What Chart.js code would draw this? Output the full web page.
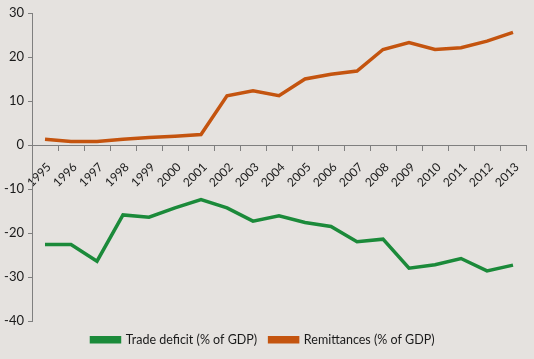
<!DOCTYPE html>
<html>
<head>
<meta charset="utf-8">
<script src="https://cdn.jsdelivr.net/npm/chart.js@4/dist/chart.umd.min.js"></script>
<style>
  html, body { margin: 0; padding: 0; background: #e5e2df; }
  #wrap { width: 534px; height: 359px; }
</style>
</head>
<body>
<div id="wrap"><canvas id="c" width="534" height="359"></canvas></div>
<script>
const years = ['1995','1996','1997','1998','1999','2000','2001','2002','2003','2004','2005','2006','2007','2008','2009','2010','2011','2012','2013'];
const tradeDeficit = [-22.6, -22.6, -26.4, -15.9, -16.4, -14.3, -12.4, -14.3, -17.3, -16.1, -17.6, -18.5, -22.0, -21.4, -28.0, -27.2, -25.8, -28.6, -27.3];
const remittances = [1.3, 0.8, 0.8, 1.3, 1.7, 2.0, 2.4, 11.2, 12.3, 11.2, 15.0, 16.1, 16.8, 21.7, 23.3, 21.7, 22.1, 23.6, 25.6];
const yMin = -40, yMax = 30, yStep = 10;

const green = '#1b8a3a';
const orange = '#c4540f';
const axisColor = '#7f7f7f';
const fontFamily = 'Lato, "Open Sans", sans-serif';

new Chart(document.getElementById('c'), {
  type: 'line',
  data: {
    labels: years,
    datasets: [
      { label: 'Trade deficit (% of GDP)', data: tradeDeficit, borderColor: green, backgroundColor: green, borderWidth: 3.5, pointRadius: 0, tension: 0 },
      { label: 'Remittances (% of GDP)', data: remittances, borderColor: orange, backgroundColor: orange, borderWidth: 3.5, pointRadius: 0, tension: 0 }
    ]
  },
  options: {
    responsive: false,
    animation: false,
    layout: { padding: { top: 13, right: 8, bottom: 3, left: 0 } },
    plugins: {
      legend: {
        position: 'bottom',
        labels: {
          boxWidth: 28, boxHeight: 4, padding: 12.5,
          color: '#1a1a1a',
          font: { family: fontFamily, size: 12.5 }
        }
      },
      tooltip: { enabled: false }
    },
    scales: {
      x: {
        position: { y: 0 },
        offset: true,
        afterFit: (s) => { s.height = 0; },
        grid: { display: true, drawOnChartArea: false, drawTicks: true, tickLength: 5, color: axisColor, offset: true },
        border: { display: true, color: axisColor, width: 1 },
        ticks: { minRotation: 45, maxRotation: 45, labelOffset: 4, color: '#1a1a1a', padding: 10, font: { family: fontFamily, size: 12 } }
      },
      y: {
        min: yMin, max: yMax,
        afterFit: (s) => { s.width = 32; },
        grid: { display: true, drawOnChartArea: false, drawTicks: true, tickLength: 4, color: axisColor },
        border: { display: true, color: axisColor, width: 1 },
        ticks: { stepSize: yStep, color: '#1a1a1a', padding: 4, font: { family: fontFamily, size: 13 } }
      }
    }
  }
});
</script>
</body>
</html>
